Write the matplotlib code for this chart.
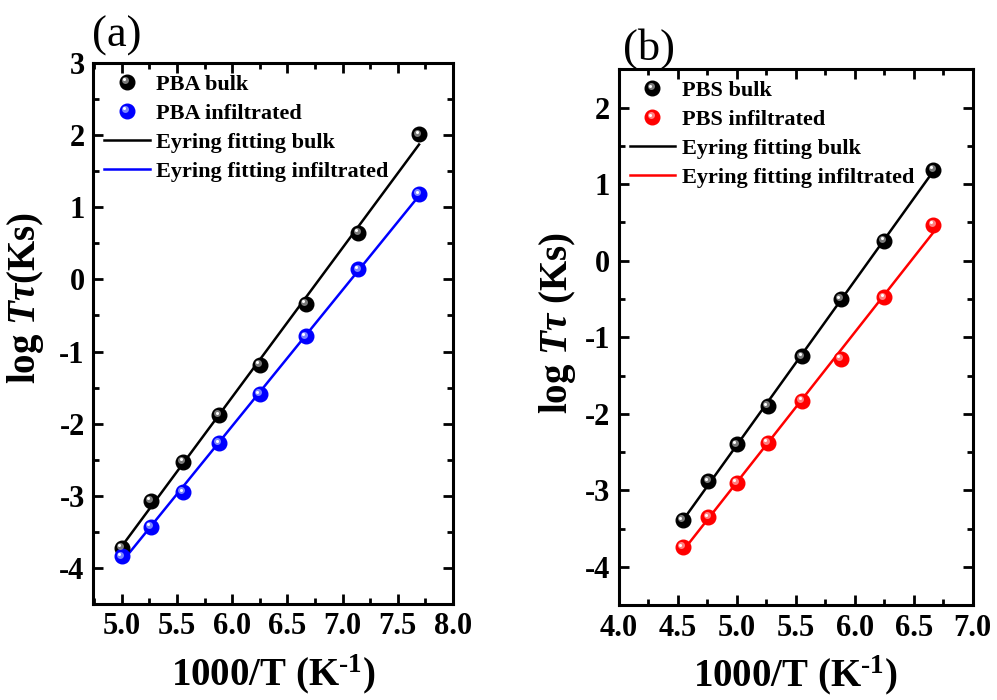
import matplotlib
matplotlib.use("Agg")
import matplotlib.pyplot as plt
from matplotlib.lines import Line2D
from matplotlib.transforms import offset_copy
from matplotlib.legend_handler import HandlerBase
from matplotlib.ticker import MultipleLocator

plt.rcParams['font.family'] = ['Liberation Serif', 'DejaVu Serif']
plt.rcParams['font.weight'] = 'bold'
plt.rcParams['axes.unicode_minus'] = False
plt.rcParams['mathtext.fontset'] = 'custom'
plt.rcParams['mathtext.rm'] = 'Liberation Serif:bold'
plt.rcParams['mathtext.bf'] = 'Liberation Serif:bold'
plt.rcParams['mathtext.it'] = 'Liberation Serif:italic:bold'

# panel (a): PBA
x_a = [5.000, 5.263, 5.556, 5.882, 6.250, 6.667, 7.143, 7.692]
bulk_a = [-3.72, -3.07, -2.53, -1.88, -1.18, -0.34, 0.65, 2.01]
infil_a = [-3.84, -3.43, -2.95, -2.27, -1.59, -0.79, 0.14, 1.18]
fitx_a = [5.000, 7.692]
fit_bulk_a = [-3.70, 1.87]
fit_infil_a = [-3.92, 1.16]

# panel (b): PBS
x_b = [4.545, 4.762, 5.000, 5.263, 5.556, 5.882, 6.250, 6.667]
bulk_b = [-3.39, -2.88, -2.40, -1.90, -1.25, -0.50, 0.26, 1.19]
infil_b = [-3.74, -3.35, -2.90, -2.38, -1.83, -1.28, -0.48, 0.47]
fitx_b = [4.545, 6.667]
fit_bulk_b = [-3.39, 1.17]
fit_infil_b = [-3.79, 0.37]

fig = plt.figure(figsize=(9.97, 7.0), dpi=100)
ax1 = fig.add_axes([0.0933, 0.1371, 0.3611, 0.7729])
ax2 = fig.add_axes([0.6204, 0.1353, 0.3552, 0.7657])

MS = 10.5


class BallHandler(HandlerBase):
    # sphere-like marker for the legend: base dot + lighter spot + white glint
    def create_artists(self, legend, orig, xdescent, ydescent, width, height,
                       fontsize, trans):
        color, light = orig
        cx = -xdescent + width / 2
        cy = -ydescent + height / 2
        a = Line2D([cx], [cy], marker='o', ms=MS, color=color, ls='none')
        b = Line2D([cx - 1.3], [cy + 1.3], marker='o', ms=5, color=light,
                   mec='none', alpha=0.8, ls='none')
        c = Line2D([cx - 1.8], [cy + 1.8], marker='o', ms=2.2, color='white',
                   mec='none', ls='none')
        for art in (a, b, c):
            art.set_transform(trans)
        return [a, b, c]


def ball(ax, x, y, color, light):
    ax.plot(x, y, 'o', ms=MS, color=color, mec=color, zorder=3, ls='none')
    tr = offset_copy(ax.transData, fig=fig, x=-1.3, y=1.3, units='points')
    ax.plot(x, y, 'o', ms=5, color=light, mec='none', zorder=4, ls='none',
            alpha=0.8, transform=tr)
    tr2 = offset_copy(ax.transData, fig=fig, x=-1.8, y=1.8, units='points')
    ax.plot(x, y, 'o', ms=2.2, color='white', mec='none', zorder=5, ls='none',
            transform=tr2)
    return (color, light)


def panel(ax, x, bulk, infil, fitx, fb, fi, col, light, name, xlim, ylim, ylabel,
          lab_xy):
    lb, = ax.plot(fitx, fb, '-', color='black', lw=1.8, zorder=2)
    li, = ax.plot(fitx, fi, '-', color=col, lw=1.8, zorder=2)
    hb = ball(ax, x, bulk, 'black', '#9a9a9a')
    hi = ball(ax, x, infil, col, light)
    ax.set_xlim(*xlim)
    ax.set_ylim(*ylim)
    ax.xaxis.set_major_locator(MultipleLocator(0.5))
    ax.xaxis.set_minor_locator(MultipleLocator(0.25))
    ax.yaxis.set_major_locator(MultipleLocator(1))
    ax.yaxis.set_minor_locator(MultipleLocator(0.5))
    ax.xaxis.set_major_formatter(plt.FormatStrFormatter('%.1f'))
    ax.tick_params(which='both', direction='in', top=True, right=True,
                   width=2, labelsize=22, pad=6)
    ax.tick_params(which='major', length=7)
    ax.tick_params(which='minor', length=4)
    for s in ax.spines.values():
        s.set_linewidth(2.2)
    for t in ax.get_xticklabels() + ax.get_yticklabels():
        t.set_fontweight('bold')
    ax.set_xlabel('1000/T (K$^{\\mathbf{\u2010}\\mathbf{1}}$)', fontsize=28,
                  fontweight='bold', labelpad=8)
    ax.set_ylabel(ylabel, fontsize=28, fontweight='bold')
    ax.yaxis.set_label_coords(*lab_xy)
    ax.legend([hb, hi, lb, li],
              [name + ' bulk', name + ' infiltrated',
               'Eyring fitting bulk', 'Eyring fitting infiltrated'],
              handler_map={tuple: BallHandler()},
              loc='upper left', frameon=False,
              prop={'weight': 'bold', 'size': 16},
              handlelength=2.05, handletextpad=0.3, labelspacing=0.38,
              borderaxespad=0.2, borderpad=0.3)


panel(ax1, x_a, bulk_a, infil_a, fitx_a, fit_bulk_a, fit_infil_a, 'blue', '#9aa8ff',
      'PBA', (4.74, 8.0), (-4.5, 3.0), r'log $\mathit{T\tau}$(Ks)', (-0.13, 0.565))
panel(ax2, x_b, bulk_b, infil_b, fitx_b, fit_bulk_b, fit_infil_b, 'red', '#ffa0a0',
      'PBS', (4.0, 7.0), (-4.5, 2.5), r'log $\mathit{T\tau}$ (Ks)', (-0.115, 0.526))

fig.text(92 / 997, 1 - 47 / 700, '(a)', fontsize=32, fontweight='normal', va='baseline')
fig.text(623 / 997, 1 - 60 / 700, '(b)', fontsize=32, fontweight='normal', va='baseline')

fig.savefig('out.png', dpi=100)
